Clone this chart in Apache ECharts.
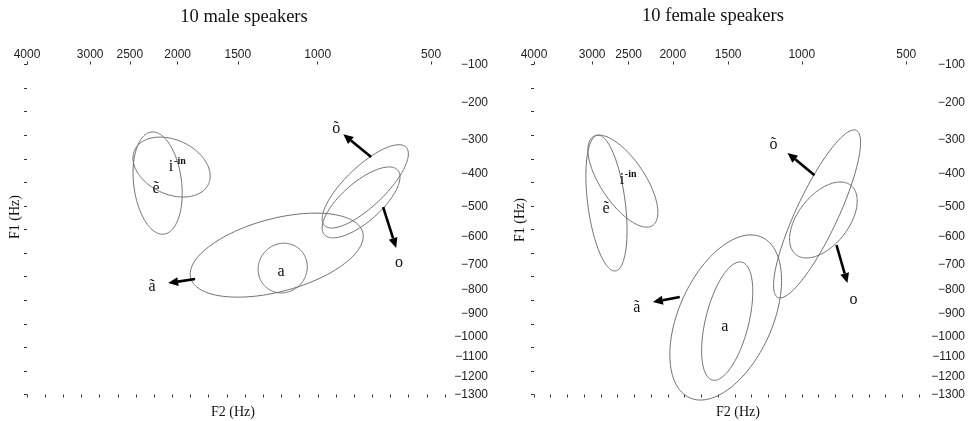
<!DOCTYPE html>
<html>
<head>
<meta charset="utf-8">
<script src="https://cdn.jsdelivr.net/npm/echarts@6/dist/echarts.min.js"></script>
<style>
  html, body { margin: 0; padding: 0; background: #fff; }
  #chart { width: 970px; height: 421px; }
</style>
</head>
<body>
<div id="chart"></div>
<script>
// Formant axes: F2 (top) and F1 (right) in Hz, drawn on a Bark scale.
const F2_TICKS = [4000, 3000, 2500, 2000, 1500, 1000, 500];
const F1_TICKS = [100, 200, 300, 400, 500, 600, 700, 800, 900, 1000, 1100, 1200, 1300];
const F2_RANGE = [450, 4000];
const F1_RANGE = [100, 1300];

// Vowel order used by every array below
const vowels = ['i', 'ẽ', 'õ', 'o', 'ã', 'a'];

// Male speakers: ellipse centres (Hz), spreads (Bark) and F2/F1 correlation
const maleF2 = [2058, 2197, 767, 786, 1237, 1200];
const maleF1 = [379, 427, 437, 487, 666, 714];
const maleSpreadF2 = [1.21, 0.77, 1.35, 1.22, 2.71, 0.77];
const maleSpreadF1 = [0.82, 1.40, 1.14, 0.97, 1.15, 0.68];
const maleCorr = [-0.30, -0.20, 0.78, 0.72, 0.45, 0.05];
const maleLabelF2 = [2063, 2212, 905, 623, 2254, 1210];
const maleLabelF1 = [379, 445, 271, 695, 788, 729];

// Female speakers
const femaleF2 = [2574, 2794, 914, 880, 1520, 1508];
const femaleF1 = [421, 489, 524, 544, 915, 931];
const femaleSpreadF2 = [1.19, 0.70, 1.48, 1.15, 1.90, 0.87];
const femaleSpreadF1 = [1.26, 1.86, 2.30, 1.04, 2.26, 1.62];
const femaleCorr = [-0.68, -0.40, 0.85, 0.50, 0.45, 0.50];
const femaleLabelF2 = [2587, 2801, 1173, 729, 2399, 1528];
const femaleLabelF1 = [418, 508, 315, 841, 874, 958];

// Arrows pointing from an ellipse towards its nasal / oral label (õ, o, ã)
const maleArrowFromF2 = [741, 689, 1842];
const maleArrowFromF1 = [350, 502, 756];
const maleArrowToF2 = [870, 635, 2092];
const maleArrowToF1 = [285, 640, 772];
const femaleArrowFromF2 = [928, 812, 1930];
const femaleArrowFromF1 = [403, 630, 828];
const femaleArrowToF2 = [1085, 758, 2213];
const femaleArrowToF1 = [338, 772, 849];

const bark = f => 7 * Math.asinh(f / 650);
const hz = z => 650 * Math.sinh(z / 7);

const SANS = 'Liberation Sans';
const SERIF = 'Liberation Serif';

function ellipseData(f2, f1, s2, s1, r) {
  return f2.map((v, i) => [bark(v), bark(f1[i]), s2[i], s1[i], r[i]]);
}
function labelData(f2, f1) {
  return f2.map((v, i) => [bark(v), bark(f1[i]), vowels[i]]);
}
function arrowData(a2, a1, b2, b1) {
  return a2.map((v, i) => [bark(v), bark(a1[i]), bark(b2[i]), bark(b1[i])]);
}

function renderEllipse(params, api) {
  const cx = api.value(0), cy = api.value(1);
  const sx = api.value(2), sy = api.value(3), r = api.value(4);
  const q = Math.sqrt(1 - r * r);
  const pts = [];
  const N = 160;
  for (let k = 0; k < N; k++) {
    const t = 2 * Math.PI * k / N;
    pts.push(api.coord([cx + sx * Math.cos(t), cy + sy * (r * Math.cos(t) + q * Math.sin(t))]));
  }
  return {
    type: 'polygon',
    shape: { points: pts },
    style: { fill: 'none', stroke: '#6f6f6f', lineWidth: 1 }
  };
}

function renderLabel(params, api) {
  const p = api.coord([api.value(0), api.value(1)]);
  const txt = vowels[params.dataIndex];
  const children = [{
    type: 'text', x: p[0], y: p[1],
    style: { text: txt, font: '16px ' + SERIF, fill: '#111', align: 'center', verticalAlign: 'middle',
             textAlign: 'center', textVerticalAlign: 'middle' }
  }];
  if (txt === 'i') {
    children.push({
      type: 'text', x: p[0] + 3, y: p[1] - 6,
      style: { text: '-in', font: 'bold 10px ' + SERIF, fill: '#111', align: 'left', verticalAlign: 'middle',
               textAlign: 'left', textVerticalAlign: 'middle' }
    });
  }
  return { type: 'group', children };
}

function renderArrow(params, api) {
  const a = api.coord([api.value(0), api.value(1)]);
  const b = api.coord([api.value(2), api.value(3)]);
  const dx = b[0] - a[0], dy = b[1] - a[1];
  const len = Math.hypot(dx, dy);
  const ux = dx / len, uy = dy / len;
  const head = 10, half = 4.5;
  const base = [b[0] - ux * head, b[1] - uy * head];
  return {
    type: 'group',
    children: [
      { type: 'line', shape: { x1: a[0], y1: a[1], x2: base[0], y2: base[1] },
        style: { stroke: '#000', lineWidth: 2.6 } },
      { type: 'polygon',
        shape: { points: [b, [base[0] - uy * half, base[1] + ux * half], [base[0] + uy * half, base[1] - ux * half]] },
        style: { fill: '#000' } }
    ]
  };
}

const grids = [
  { left: 27, top: 64.5, width: 418, height: 330 },
  { left: 534, top: 64.5, width: 385, height: 330 }
];
const rightLabelMargin = [43, 46];

const xAxes = [], yAxes = [];
grids.forEach((g, gi) => {
  xAxes.push({
    gridIndex: gi, type: 'value', position: 'top', inverse: true,
    min: bark(F2_RANGE[0]), max: bark(F2_RANGE[1]),
    axisLine: { show: false, onZero: false }, splitLine: { show: false },
    axisTick: { show: true, length: 3, customValues: F2_TICKS.map(bark), lineStyle: { color: '#333', width: 1 } },
    axisLabel: { show: true, margin: 4, customValues: F2_TICKS.map(bark), fontFamily: SANS, fontSize: 12, color: '#222',
                 formatter: v => String(Math.round(hz(v) / 10) * 10) }
  });
  xAxes.push({
    gridIndex: gi, type: 'value', position: 'bottom', min: 0, max: 23, interval: 1,
    axisLine: { show: false, onZero: false }, splitLine: { show: false }, axisLabel: { show: false },
    axisTick: { show: true, length: 3, lineStyle: { color: '#333', width: 1 } }
  });
  yAxes.push({
    gridIndex: gi, type: 'value', position: 'right', inverse: true,
    min: bark(F1_RANGE[0]), max: bark(F1_RANGE[1]),
    axisLine: { show: false, onZero: false }, splitLine: { show: false }, axisTick: { show: false },
    axisLabel: { show: true, align: 'right', margin: rightLabelMargin[gi], customValues: F1_TICKS.map(bark),
                 fontFamily: SANS, fontSize: 12, color: '#222',
                 formatter: v => '\u2212' + (Math.round(hz(v) / 10) * 10) }
  });
  yAxes.push({
    gridIndex: gi, type: 'value', position: 'left', min: 0, max: 14, interval: 1,
    axisLine: { show: false, onZero: false }, splitLine: { show: false }, axisLabel: { show: false },
    axisTick: { show: true, length: 3, lineStyle: { color: '#333', width: 1 } }
  });
});

function panelSeries(gi, ell, lab, arr) {
  const xi = gi * 2, yi = gi * 2;
  return [
    { type: 'custom', xAxisIndex: xi, yAxisIndex: yi, renderItem: renderEllipse, data: ell, clip: false, silent: true },
    { type: 'custom', xAxisIndex: xi, yAxisIndex: yi, renderItem: renderArrow, data: arr, clip: false, silent: true },
    { type: 'custom', xAxisIndex: xi, yAxisIndex: yi, renderItem: renderLabel, data: lab, clip: false, silent: true }
  ];
}

const series = [].concat(
  panelSeries(0,
    ellipseData(maleF2, maleF1, maleSpreadF2, maleSpreadF1, maleCorr),
    labelData(maleLabelF2, maleLabelF1),
    arrowData(maleArrowFromF2, maleArrowFromF1, maleArrowToF2, maleArrowToF1)),
  panelSeries(1,
    ellipseData(femaleF2, femaleF1, femaleSpreadF2, femaleSpreadF1, femaleCorr),
    labelData(femaleLabelF2, femaleLabelF1),
    arrowData(femaleArrowFromF2, femaleArrowFromF1, femaleArrowToF2, femaleArrowToF1))
);

function txt(text, x, y, font, rotation) {
  return {
    type: 'text', x, y, rotation: rotation || 0,
    style: { text, font, fill: '#111', align: 'center', verticalAlign: 'middle',
             textAlign: 'center', textVerticalAlign: 'middle' }
  };
}

const chart = echarts.init(document.getElementById('chart'), null, { renderer: 'canvas' });
chart.setOption({
  animation: false,
  backgroundColor: '#fff',
  grid: grids,
  xAxis: xAxes,
  yAxis: yAxes,
  series,
  graphic: [
    txt('10 male speakers', 244, 17, '18.5px ' + SERIF),
    txt('10 female speakers', 713, 16, '18.5px ' + SERIF),
    txt('F2 (Hz)', 233, 412, '14px ' + SERIF),
    txt('F2 (Hz)', 738, 412, '14px ' + SERIF),
    txt('F1 (Hz)', 15, 217, '14px ' + SERIF, Math.PI / 2),
    txt('F1 (Hz)', 520, 220, '14px ' + SERIF, Math.PI / 2)
  ]
});
</script>
</body>
</html>
